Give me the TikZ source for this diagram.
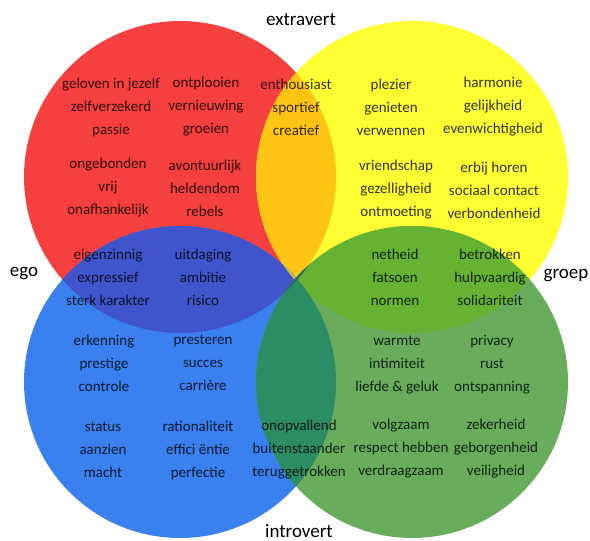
\documentclass[tikz,border=0pt]{standalone}
\usepackage{fontspec}
\setmainfont{Carlito}
\usepackage{tikz}
\usepackage{xcolor}

\definecolor{vredRed}{RGB}{246,64,64}
\definecolor{vredYellow}{RGB}{255,255,52}
\definecolor{vredBlue}{RGB}{58,128,238}
\definecolor{vredGreen}{RGB}{104,172,92}
\definecolor{vredOrange}{RGB}{255,196,20}
\definecolor{vredNavy}{RGB}{64,84,204}
\definecolor{vredLime}{RGB}{102,178,50}
\definecolor{vredTeal}{RGB}{44,140,100}
\definecolor{vredOlive}{RGB}{186,190,80}
\definecolor{vredDeep}{RGB}{40,110,90}

\tikzset{
  words/.style={align=center, text opacity=0.8, inner sep=0pt,
    font=\fontsize{15}{23}\selectfont},
  pole/.style={inner sep=0pt, font=\fontsize{19}{22}\selectfont}
}

\begin{document}
\begin{tikzpicture}[x=1pt, y=-1pt]
    \useasboundingbox (0,0) rectangle (590,541);

    % Circles
    \fill[vredRed] (180,177) circle (156);
    \fill[vredYellow] (412,177) circle (156);
    \begin{scope}
        \clip (180,177) circle (156);
        \fill[vredOrange] (412,177) circle (156);
    \end{scope}
    \fill[vredBlue] (180,382) circle (156);
    \begin{scope}
        \clip (180,177) circle (156);
        \fill[vredNavy] (180,382) circle (156);
    \end{scope}
    \begin{scope}
        \clip (412,177) circle (156);
        \fill[vredOlive] (180,382) circle (156);
    \end{scope}
    \fill[vredGreen] (412,382) circle (156);
    \begin{scope}
        \clip (412,177) circle (156);
        \fill[vredLime] (412,382) circle (156);
    \end{scope}
    \begin{scope}
        \clip (180,382) circle (156);
        \fill[vredTeal] (412,382) circle (156);
    \end{scope}
    \begin{scope}
        \clip (180,177) circle (156);
        \fill[vredDeep] (412,382) circle (156);
    \end{scope}

    % Poles
    \node[pole] (extravert) at (301,20) {extravert};
    \node[pole] (introvert) at (299,531) {introvert};
    \node[pole] (ego) at (24,274) {ego};
    \node[pole] (groep) at (566,276) {groep};

    % Red
    \node[words] (redA) at (111,107) {geloven in jezelf\\zelfverzekerd\\passie};
    \node[words] (redB) at (206,107) {ontplooien\\vernieuwing\\groeien};
    \node[words] (redC) at (296,107) {enthousiast\\sportief\\creatief};
    \node[words] (redD) at (108,188) {ongebonden\\vrij\\onafhankelijk};
    \node[words] (redE) at (205,188) {avontuurlijk\\heldendom\\rebels};

    % Red and blue
    \node[words] (navyA) at (108,277) {eigenzinnig\\expressief\\sterk karakter};
    \node[words] (navyB) at (203,277) {uitdaging\\ambitie\\risico};

    % Blue
    \node[words] (blueA) at (104,363) {erkenning\\prestige\\controle};
    \node[words] (blueB) at (203,363) {presteren\\succes\\carrière};
    \node[words] (blueC) at (103,450) {status\\aanzien\\macht};
    \node[words] (blueD) at (198,450) {rationaliteit\\effici ëntie\\perfectie};
    \node[words] (blueE) at (299,450) {onopvallend\\buitenstaander\\teruggetrokken};

    % Yellow
    \node[words] (yellowA) at (391,107) {plezier\\genieten\\verwennen};
    \node[words] (yellowB) at (493,107) {harmonie\\gelijkheid\\evenwichtigheid};
    \node[words] (yellowC) at (396,190) {vriendschap\\gezelligheid\\ontmoeting};
    \node[words] (yellowD) at (494,190) {erbij horen\\sociaal contact\\verbondenheid};

    % Yellow and green
    \node[words] (limeA) at (395,277) {netheid\\fatsoen\\normen};
    \node[words] (limeB) at (490,277) {betrokken\\hulpvaardig\\solidariteit};

    % Green
    \node[words] (greenA) at (397,365) {warmte\\intimiteit\\liefde \& geluk};
    \node[words] (greenB) at (492,365) {privacy\\rust\\ontspanning};
    \node[words] (greenC) at (401,449) {volgzaam\\respect hebben\\verdraagzaam};
    \node[words] (greenD) at (496,449) {zekerheid\\geborgenheid\\veiligheid};
\end{tikzpicture}
\end{document}
